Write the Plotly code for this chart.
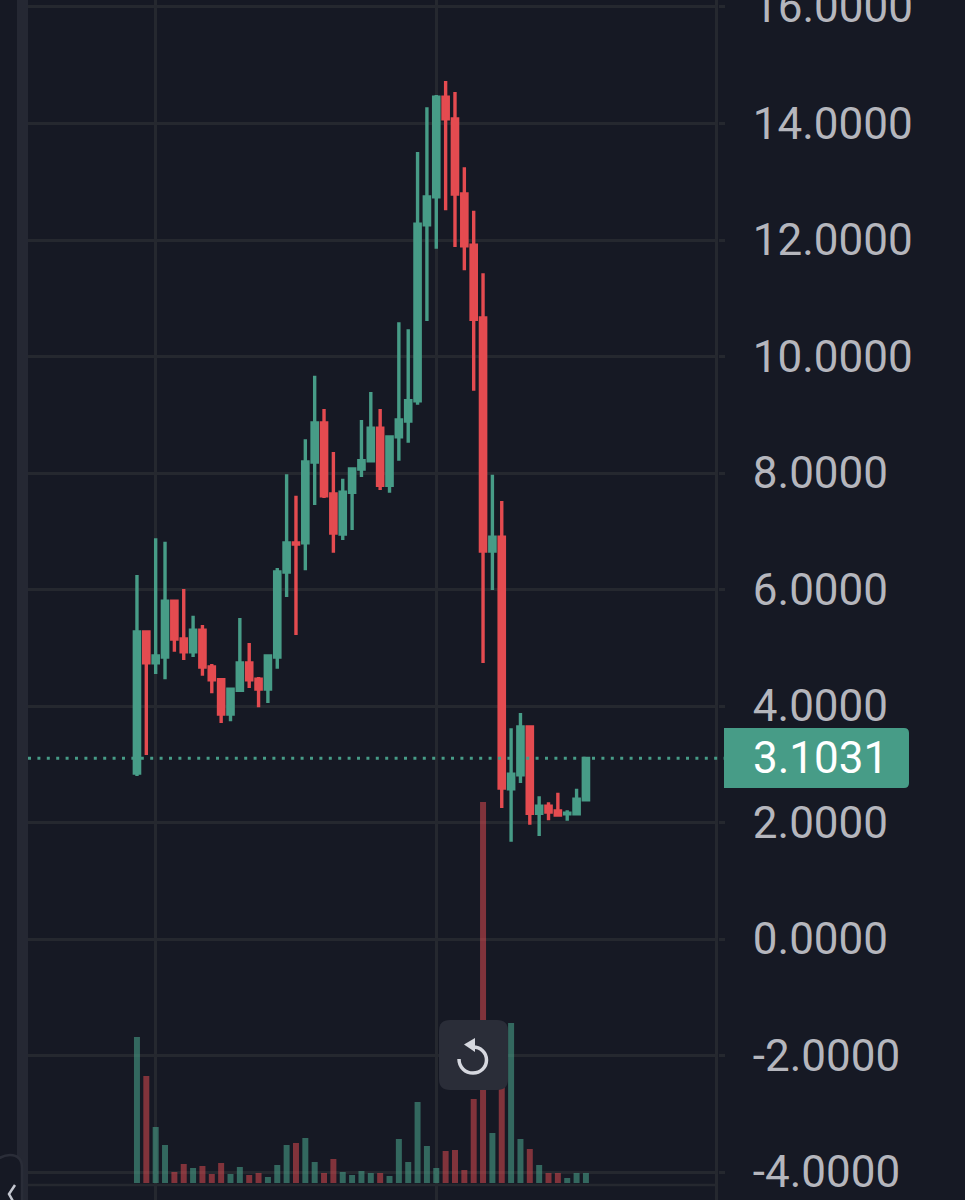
import plotly.graph_objects as go

# one entry per candle
opens = [2.85, 5.27, 4.74, 4.84, 5.80, 5.15, 4.93, 5.30, 4.67, 4.45, 3.86, 4.27, 4.74, 4.46, 4.29, 4.84, 6.30,
         6.80, 6.80, 8.19, 8.86, 7.64, 6.95, 7.67, 8.07, 8.21, 8.77, 7.79, 8.62, 8.89, 9.24, 12.26, 12.74,
         14.45, 14.08, 12.79, 11.91, 10.66, 6.66, 6.90, 2.58, 2.82, 3.64, 2.16, 2.28, 2.20, 2.15, 2.15, 2.39]
highs = [6.25, 5.27, 6.88, 6.82, 5.80, 6.01, 5.55, 5.39, 4.72, 4.45, 4.29, 5.51, 5.08, 4.50, 4.86, 6.37, 7.98,
         7.61, 8.58, 9.67, 9.10, 8.36, 7.90, 8.07, 8.91, 9.39, 9.10, 8.62, 10.59, 10.47, 13.51, 14.28, 14.49,
         14.73, 14.54, 13.25, 12.50, 11.43, 7.97, 7.52, 3.62, 3.88, 3.64, 2.45, 2.35, 2.51, 2.21, 2.58, 3.10]
lows = [2.80, 3.16, 4.55, 4.46, 4.93, 4.79, 4.84, 4.52, 4.22, 3.71, 3.74, 4.27, 4.31, 3.98, 4.05, 4.64, 5.87,
        5.22, 6.33, 7.45, 7.57, 6.63, 6.85, 7.02, 7.93, 8.21, 7.71, 7.66, 8.21, 8.52, 9.17, 10.61, 11.85,
        12.51, 11.88, 11.48, 9.41, 4.74, 5.99, 2.25, 1.67, 2.68, 1.96, 1.77, 2.04, 2.13, 2.03, 2.15, 2.39]
closes = [5.27, 4.74, 4.86, 5.80, 5.15, 4.93, 5.30, 4.67, 4.45, 3.86, 4.29, 4.74, 4.45, 4.29, 4.86, 6.30, 6.80,
          6.78, 8.19, 8.86, 7.61, 6.97, 7.67, 8.07, 8.21, 8.77, 7.79, 8.62, 8.91, 9.24, 12.27, 12.74, 14.45,
          14.08, 12.79, 11.90, 10.64, 6.66, 6.90, 2.59, 2.83, 3.64, 2.16, 2.28, 2.18, 2.13, 2.16, 2.40, 3.10]
volumes = [146, 107, 56, 38, 11, 19, 15, 17, 9, 20, 9, 16, 8, 10, 6, 18, 38,
           40, 45, 21, 10, 24, 11, 8, 12, 10, 10, 7, 44, 21, 81, 37, 15,
           32, 33, 13, 84, 381, 50, 135, 160, 44, 34, 18, 10, 10, 5, 10, 10]

price_ticks = [16, 14, 12, 10, 8, 6, 4, 2, 0, -2, -4]
price_labels = ['16.0000', '14.0000', '12.0000', '10.0000', '8.0000', '6.0000', '4.0000', '2.0000', '0.0000',
                '-2.0000', '-4.0000']
time_ticks = [2, 32, 62]
last_price = 3.1031
last_label = '3.1031'

BG = '#161924'
GRID = '#25282f'
GREEN = '#479c87'
RED = '#e44b50'
PANEL = '#2a2d38'
TEXT = '#b5b6bd'
FONT = 'Roboto'
FONT_SIZE = 44

W, H = 965, 1200
LEFT, RIGHT = 28, 718


# shapes for the app chrome are placed in screen pixels
def px(x, y):
    return (x - LEFT) / (RIGHT - LEFT), 1 - y / H


def svg(*parts):
    out = []
    for cmd, pts in parts:
        coords = ' '.join('%.5f,%.5f' % px(*p) for p in pts)
        out.append(cmd + coords)
    return ' '.join(out)


def rounded_path(x0, y0, x1, y1, r):
    return svg(('M', [(x0 + r, y0)]), ('L', [(x1 - r, y0)]), ('Q', [(x1, y0), (x1, y0 + r)]),
               ('L', [(x1, y1 - r)]), ('Q', [(x1, y1), (x1 - r, y1)]), ('L', [(x0 + r, y1)]),
               ('Q', [(x0, y1), (x0, y1 - r)]), ('L', [(x0, y0 + r)]), ('Q', [(x0, y0), (x0 + r, y0)])) + ' Z'


vol_colors = ['rgba(71,156,135,0.6)' if c >= o else 'rgba(228,75,80,0.52)' for o, c in zip(opens, closes)]
x_idx = list(range(len(closes)))

fig = go.Figure()
# volume sits on the lower axis so the candles draw over it
fig.add_trace(go.Bar(x=x_idx, y=volumes, marker=dict(color=vol_colors, line=dict(width=0)), yaxis='y', hoverinfo='skip'))
fig.add_trace(go.Candlestick(
    x=x_idx, open=opens, high=highs, low=lows, close=closes, yaxis='y2',
    increasing=dict(line=dict(color=GREEN, width=3.4), fillcolor=GREEN),
    decreasing=dict(line=dict(color=RED, width=3.4), fillcolor=RED),
))

shapes = [
    # left strip
    dict(type='rect', xref='paper', yref='paper', x0=px(17, 0)[0], x1=px(28, 0)[0], y0=0, y1=1,
         fillcolor='#252833', line=dict(width=0), layer='below'),
    # volume pane baseline
    dict(type='line', xref='paper', yref='paper', x0=0, x1=1, y0=px(0, 1185)[1], y1=px(0, 1185)[1],
         line=dict(color=GRID, width=2.5), layer='below'),
    # last price line
    dict(type='line', xref='paper', yref='y2', x0=0, x1=px(724, 0)[0], y0=last_price, y1=last_price,
         line=dict(color=GREEN, width=3, dash='3px,6.4px')),
    # last price tag
    dict(type='path', xref='paper', yref='paper', fillcolor=GREEN, line=dict(width=0),
         path=svg(('M', [(724, 728)]), ('L', [(904, 728)]), ('Q', [(909, 728), (909, 733)]), ('L', [(909, 783)]),
                  ('Q', [(909, 788), (904, 788)]), ('L', [(724, 788)])) + ' Z'),
    # collapse handle
    dict(type='path', xref='paper', yref='paper', fillcolor=BG, line=dict(color=PANEL, width=2.5),
         path=svg(('M', [(-2, 1159)]), ('Q', [(4, 1155), (10, 1155)]), ('Q', [(22, 1155), (22, 1168)]),
                  ('L', [(22, 1202)]), ('L', [(-2, 1202)])) + ' Z'),
    dict(type='path', xref='paper', yref='paper', line=dict(color='#c3c6cf', width=2.5),
         path=svg(('M', [(15, 1185)]), ('L', [(9, 1194)]), ('L', [(14, 1203)]))),
    # reset button
    dict(type='path', xref='paper', yref='paper', fillcolor=PANEL, line=dict(width=0),
         path=rounded_path(439, 1020, 508, 1090, 11)),
    dict(type='path', xref='paper', yref='paper', line=dict(color='#d6d8df', width=3.5),
         path=svg(('M', [(473, 1047)]), ('C', [(480.5, 1047), (486.5, 1052.5), (486.5, 1060)]),
                  ('C', [(486.5, 1067.5), (480.5, 1073), (473, 1073)]),
                  ('C', [(465.5, 1073), (459, 1067.5), (459, 1059)]))),
    dict(type='path', xref='paper', yref='paper', fillcolor='#d6d8df', line=dict(width=0),
         path=svg(('M', [(464, 1044.5)]), ('L', [(475, 1038)]), ('L', [(475, 1052)])) + ' Z'),
]

label_x = px(751, 0)[0]
annotations = [
    dict(xref='paper', yref='y2', x=label_x, y=last_price, xanchor='left', yanchor='middle',
         text=last_label, showarrow=False, font=dict(family=FONT, size=FONT_SIZE, color='#ffffff')),
    # the axis drops its top label because it runs off the page
    dict(xref='paper', yref='y2', x=label_x, y=price_ticks[0], xanchor='left', yanchor='middle',
         text=price_labels[0], showarrow=False, font=dict(family=FONT, size=FONT_SIZE, color=TEXT)),
]

fig.update_layout(
    width=W,
    height=H,
    margin=dict(l=LEFT, r=W - RIGHT, t=0, b=0, autoexpand=False),
    paper_bgcolor=BG,
    plot_bgcolor=BG,
    showlegend=False,
    bargap=0.36,
    boxgap=0.2,
    shapes=shapes,
    annotations=annotations,
    xaxis=dict(range=[-11.65, 62.12], tickvals=time_ticks, showticklabels=False, ticks='',
               showgrid=True, gridcolor=GRID, gridwidth=2.5, zeroline=False, showline=False,
               rangeslider=dict(visible=False)),
    yaxis=dict(range=[-17, 1183], visible=False, showgrid=False, zeroline=False, fixedrange=True),
    yaxis2=dict(range=[-4.48, 16.12], overlaying='y', side='right', tickvals=price_ticks,
                ticktext=[''] + price_labels[1:],
                ticks='outside', ticklen=6, tickwidth=2.5, tickcolor=GRID, ticklabelstandoff=19,
                tickfont=dict(family=FONT, size=FONT_SIZE, color=TEXT),
                showgrid=True, gridcolor=GRID, gridwidth=2.5, zeroline=False, showline=False),
)

fig.write_html("out.html", config=dict(displayModeBar=False),
               post_script="document.body.style.margin='0';document.body.style.background='%s';" % BG)
